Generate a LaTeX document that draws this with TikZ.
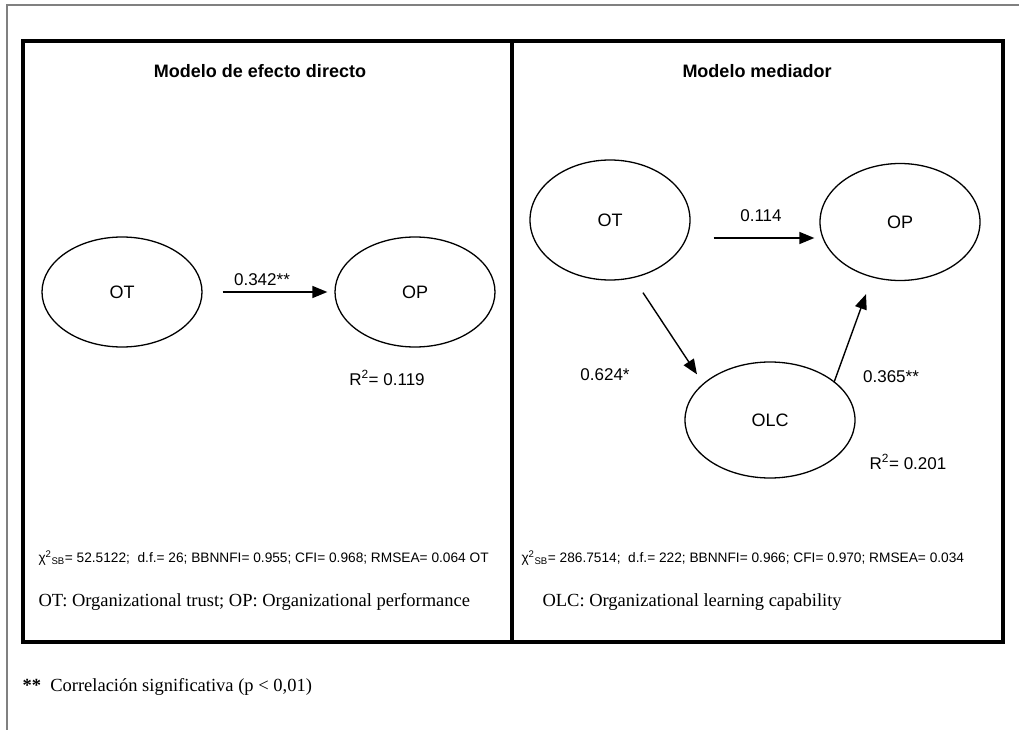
\documentclass[tikz,border=0pt]{standalone}
\usepackage{fontspec}
\setmainfont{Liberation Sans}
\newfontfamily\timesfont{Liberation Serif}
\usetikzlibrary{shapes.geometric,arrows.meta}
\begin{document}
\begin{tikzpicture}[x=1pt, y=-1pt,
    frame/.style={line width=4pt},
    latent/.style={draw, ellipse, line width=1.3pt, font=\fontsize{18}{21}\selectfont},
    effect/.style={line width=1.4pt, -{Triangle[length=15pt,width=12pt]}},
    coef/.style={font=\fontsize{17}{20}\selectfont},
    fit/.style={anchor=west, font=\fontsize{13.7}{16}\selectfont},
    note/.style={anchor=west, font=\timesfont\fontsize{18.5}{22}\selectfont}]
    \useasboundingbox (0,0) rectangle (1019,730);
    \draw[gray, line width=1.8pt] (7,730) -- (7,5) -- (1019,5);
    \foreach \xa/\xb in {23/512, 512/1003}
        \draw[frame] (\xa,41) rectangle (\xb,642);

    % direct effect model
    \node[font=\bfseries\fontsize{18}{22}\selectfont] (title1) at (260,71) {Modelo de efecto directo};
    \node[latent, minimum width=160pt, minimum height=110pt] (ot1) at (122,292) {OT};
    \node[latent, minimum width=160pt, minimum height=110pt] (op1) at (415,292) {OP};
    \draw[effect, shorten <=20pt, shorten >=7pt] (ot1) -- (op1);
    \node[coef] (b1) at (262,280) {0.342**};
    \node[coef] (r1) at (387,378) {R\textsuperscript{2}= 0.119};
    \node[fit] (fit1) at (35,558) {χ\textsuperscript{2}\textsubscript{SB}= 52.5122;\ \ d.f.= 26; BBNNFI= 0.955; CFI= 0.968; RMSEA= 0.064 OT};
    \node[note] (key1) at (35,602) {OT: Organizational trust; OP: Organizational performance};

    % mediator model
    \node[font=\bfseries\fontsize{18}{22}\selectfont] (title2) at (757,71) {Modelo mediador};
    \node[latent, minimum width=160pt, minimum height=120pt] (ot2) at (610,220) {OT};
    \node[latent, minimum width=160pt, minimum height=117pt] (op2) at (900,222) {OP};
    \node[latent, minimum width=170pt, minimum height=116pt] (olc) at (770,420) {OLC};
    \draw[effect, shorten <=23pt, shorten >=5pt] ([yshift=-18pt]ot2.east) -- ([yshift=-16pt]op2.west);
    \draw[effect] ([xshift=33pt, yshift=-12pt]ot2.south) -- ([xshift=-73pt, yshift=-13pt]olc.north);
    \draw[effect] ([xshift=64pt, yshift=-21pt]olc.north) -- ([xshift=-34pt, yshift=-13pt]op2.south);
    \node[coef] (b2) at (761,216) {0.114};
    \node[coef] (b3) at (605,375) {0.624*};
    \node[coef] (b4) at (891,377) {0.365**};
    \node[coef] (r2) at (908,462) {R\textsuperscript{2}= 0.201};
    \node[fit] (fit2) at (518,558) {χ\textsuperscript{2}\textsubscript{SB}= 286.7514;\ \ d.f.= 222; BBNNFI= 0.966; CFI= 0.970; RMSEA= 0.034};
    \node[note] (key2) at (539,602) {OLC: Organizational learning capability};

    \node[note] (sig) at (19,687) {\textbf{**}\ \ Correlación significativa (p < 0,01)};
\end{tikzpicture}
\end{document}
